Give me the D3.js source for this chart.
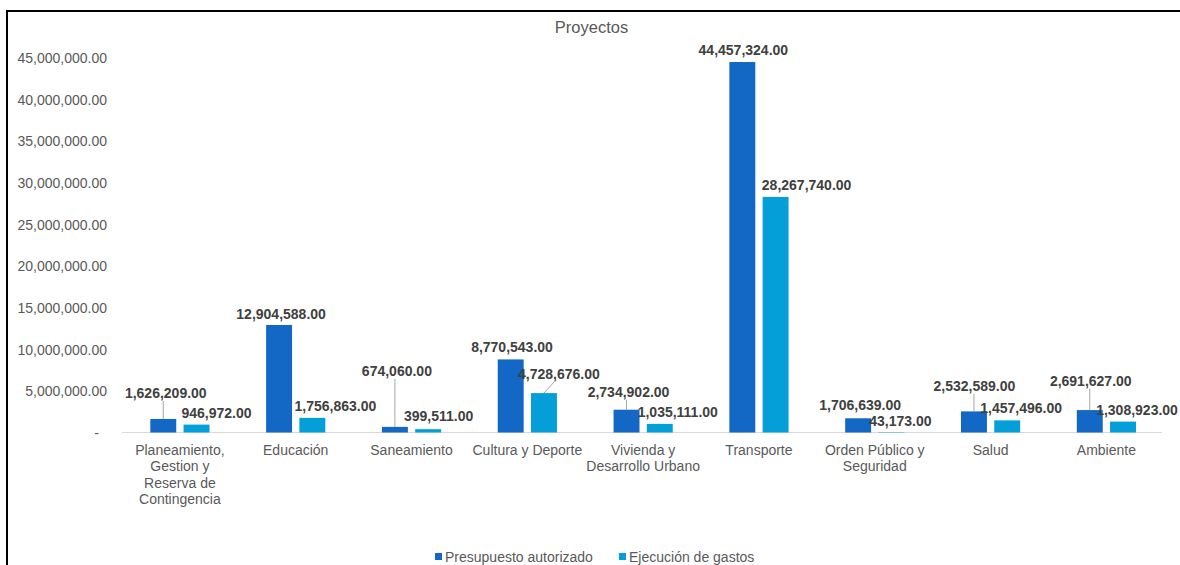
<!DOCTYPE html>
<html>
<head>
<meta charset="utf-8">
<script src="https://cdn.jsdelivr.net/npm/d3@7"></script>
<style>
  html, body { margin: 0; padding: 0; background: #fff; }
  svg { display: block; font-family: "Liberation Sans", Arial, sans-serif; }
</style>
</head>
<body>
<svg id="chart" width="1180" height="565"></svg>
<script>
// ---- data ----
const categories = [
  "Planeamiento, Gestion y Reserva de Contingencia",
  "Educación",
  "Saneamiento",
  "Cultura y Deporte",
  "Vivienda y Desarrollo Urbano",
  "Transporte",
  "Orden Público y Seguridad",
  "Salud",
  "Ambiente"
];
const seriesNames = ["Presupuesto autorizado", "Ejecución de gastos"];
const presupuesto = [1626209, 12904588, 674060, 8770543, 2734902, 44457324, 1706639, 2532589, 2691627];
const ejecucion   = [946972, 1756863, 399511, 4728676, 1035111, 28267740, 43173, 1457496, 1308923];
const yTicks = [0, 5000000, 10000000, 15000000, 20000000, 25000000, 30000000, 35000000, 40000000, 45000000];
const chartTitle = "Proyectos";

// ---- layout (label nudges relative to bar centre / bar top: [dx, dy, leader]) ----
const labelNudges = [
  [[2.5,-26,1],[2,-11,0],[2,-56,1],[1.3,-12,0],[2,-18,1],[1,-12,0],[2,-13,0],[0.5,-25.5,1],[1,-29.5,1]],
  [[20,-12,0],[23,-12,0],[10.5,-13,0],[15,-19,2],[18,-12,0],[31,-12,0],[9,-11,0],[14,-12.7,0],[14,-11.6,0]]
];
const colors = ["#1268C4", "#049FD9"];
const values = [presupuesto, ejecucion];

const svg = d3.select("#chart");

// frame
svg.append("path")
  .attr("d", "M7,565 L7,11 L1180,11")
  .attr("fill", "none").attr("stroke", "#000").attr("stroke-width", 2);

const x0 = d3.scaleBand().domain(categories).range([122, 1164.3]).padding(0);
const x1 = d3.scaleBand().domain(seriesNames).range([-29.6, 29.6]).paddingInner(0.22);
const y = d3.scaleLinear().domain([0, 45000000]).range([432.5, 57.5]);

// title
svg.append("text").attr("x", 591.5).attr("y", 27).attr("text-anchor", "middle")
  .attr("dominant-baseline", "central").attr("font-size", 16.5).attr("fill", "#595959")
  .text(chartTitle);

// y axis
const fmt = d3.format(",.2f");
const yAxis = d3.axisLeft(y).tickValues(yTicks).tickSize(0).tickPadding(0)
  .tickFormat(d => d === 0 ? "-" : fmt(d));
const gy = svg.append("g").attr("transform", "translate(107,0)").call(yAxis);
gy.select(".domain").remove();
gy.selectAll("text").attr("font-size", 14).attr("fill", "#595959")
  .attr("font-family", "Liberation Sans, Arial, sans-serif")
  .attr("dy", "0.35em")
  .attr("dx", d => d === 0 ? -8 : 0);

// x axis baseline
svg.append("line").attr("x1", x0.range()[0]).attr("x2", 1162).attr("y1", y(0)).attr("y2", y(0))
  .attr("stroke", "#d9d9d9").attr("stroke-width", 1.2);

// category labels (wrapped to band width)
const xAxis = d3.axisBottom(x0).tickSize(0).tickPadding(0);
const gx = svg.append("g").attr("transform", `translate(0,${y(0)})`).call(xAxis);
gx.select(".domain").remove();
gx.selectAll("text").attr("font-size", 14).attr("fill", "#595959")
  .attr("font-family", "Liberation Sans, Arial, sans-serif")
  .each(function(d) {
    const t = d3.select(this);
    const words = d.split(/\s+/);
    t.text(null);
    const maxW = 114.5;
    let line = [], lineNo = 0;
    let tspan = t.append("tspan").attr("x", 0).attr("y", 17.5).attr("dy", 0);
    for (const w of words) {
      line.push(w);
      tspan.text(line.join(" "));
      if (tspan.node().getComputedTextLength() > maxW && line.length > 1) {
        line.pop();
        tspan.text(line.join(" "));
        line = [w];
        lineNo++;
        tspan = t.append("tspan").attr("x", 0).attr("y", 17.5 + lineNo * 16.4).text(w);
      }
    }
    t.selectAll("tspan").attr("dominant-baseline", "central");
  });

// bars
seriesNames.forEach((s, si) => {
  const g = svg.append("g");
  g.selectAll("rect").data(values[si]).join("rect")
    .attr("x", (d, i) => x0(categories[i]) + x0.bandwidth() / 2 + x1(s))
    .attr("width", x1.bandwidth())
    .attr("y", d => y(d))
    .attr("height", d => y(0) - y(d))
    .attr("fill", colors[si]);
});

// data labels + leader lines
seriesNames.forEach((s, si) => {
  values[si].forEach((v, i) => {
    const cx = x0(categories[i]) + x0.bandwidth() / 2 + x1(s) + x1.bandwidth() / 2;
    const top = y(v);
    const [dx, dy, leader] = labelNudges[si][i];
    const lx = cx + dx, ly = top + dy;
    if (leader) {
      const sx = leader === 2 ? cx + 10 : cx;
      svg.append("line").attr("x1", sx).attr("y1", ly + 8).attr("x2", cx).attr("y2", top)
        .attr("stroke", "#a6a6a6").attr("stroke-width", 1);
    }
    svg.append("text").attr("x", lx).attr("y", ly)
      .attr("text-anchor", "middle").attr("dominant-baseline", "central")
      .attr("font-size", 14).attr("font-weight", "bold").attr("fill", "#404040")
      .text(fmt(v));
  });
});

// legend
const legX = [435, 619];
seriesNames.forEach((s, si) => {
  svg.append("rect").attr("x", legX[si]).attr("y", 553).attr("width", 7).attr("height", 7)
    .attr("fill", colors[si]);
  svg.append("text").attr("x", legX[si] + 10).attr("y", 556.5)
    .attr("dominant-baseline", "central").attr("font-size", 14).attr("fill", "#595959")
    .text(s);
});
</script>
</body>
</html>
